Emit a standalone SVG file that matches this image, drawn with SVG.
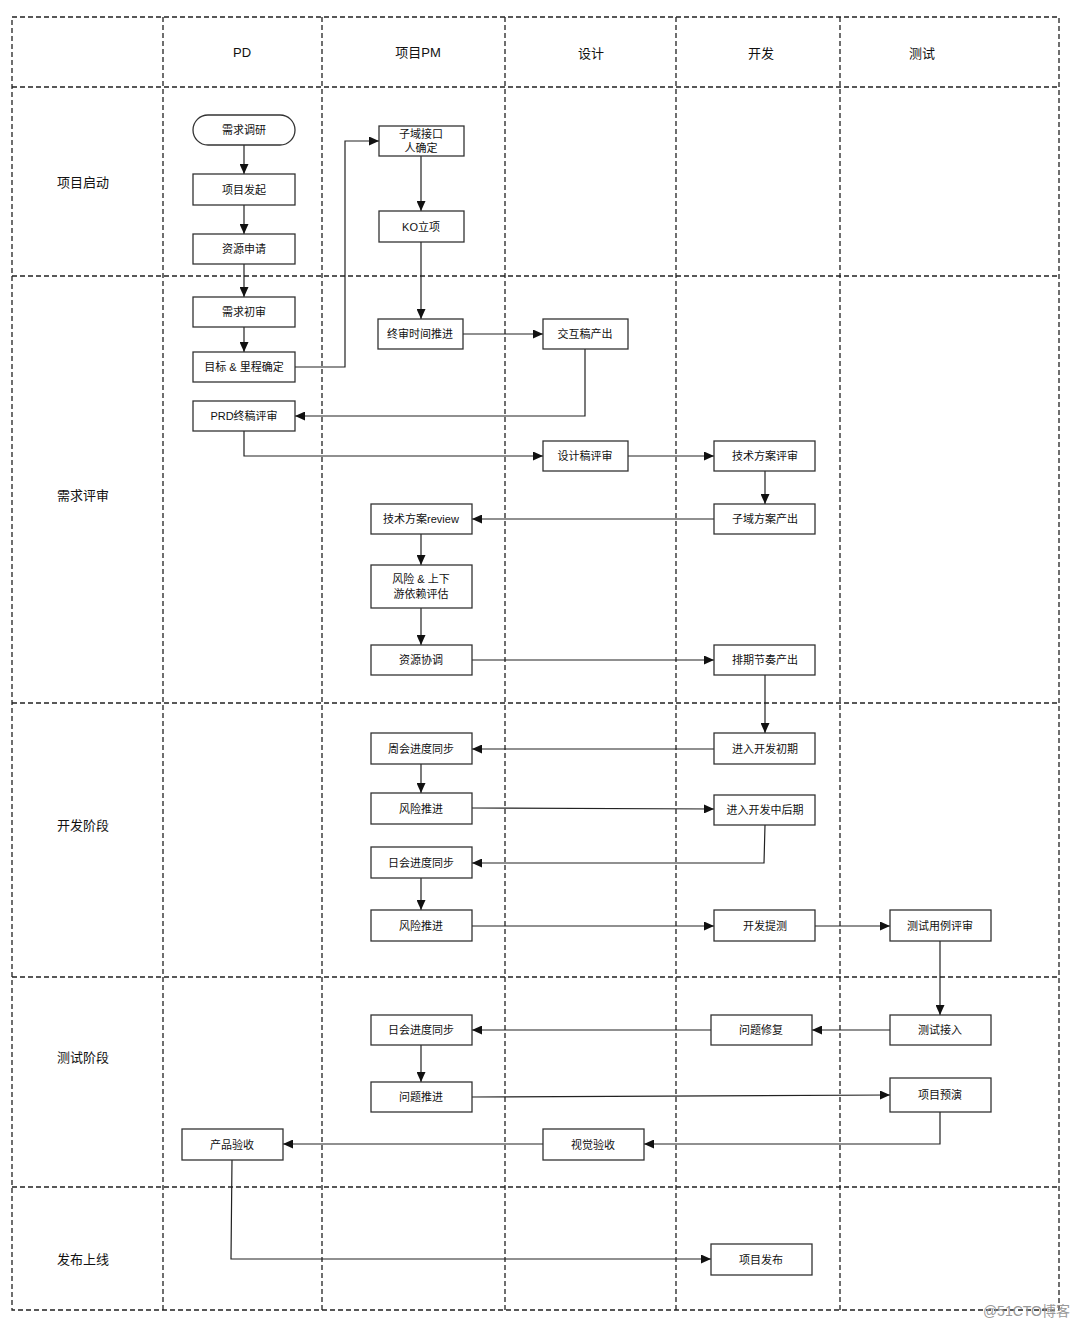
<svg xmlns="http://www.w3.org/2000/svg" width="1080" height="1329" viewBox="0 0 1080 1329">
<style>
.grid{fill:none;stroke:#222;stroke-width:1.3;stroke-dasharray:5 3}
.box{fill:#fff;stroke:#333;stroke-width:1.3}
.t{font-family:"Liberation Sans","Noto Sans CJK SC",sans-serif;font-size:11px;fill:#111;text-anchor:middle;dominant-baseline:central}
.h{font-family:"Liberation Sans","Noto Sans CJK SC",sans-serif;font-size:13px;fill:#111;text-anchor:middle;dominant-baseline:central}
.c{fill:none;stroke:#222;stroke-width:1.2;marker-end:url(#ah)}
</style>
<defs>
<marker id="ah" markerUnits="userSpaceOnUse" markerWidth="11" markerHeight="9" refX="10" refY="4.5" orient="auto">
<path d="M0,0 L10,4.5 L0,9 z" fill="#111"/>
</marker>
</defs>
<rect width="1080" height="1329" fill="#fff"/>
<g id="grid">
<rect class="grid" x="12" y="17" width="1047" height="1293"/>
<line class="grid" x1="163" y1="17" x2="163" y2="1310"/>
<line class="grid" x1="322" y1="17" x2="322" y2="1310"/>
<line class="grid" x1="505" y1="17" x2="505" y2="1310"/>
<line class="grid" x1="676" y1="17" x2="676" y2="1310"/>
<line class="grid" x1="840" y1="17" x2="840" y2="1310"/>
<line class="grid" x1="12" y1="87" x2="1059" y2="87"/>
<line class="grid" x1="12" y1="276" x2="1059" y2="276"/>
<line class="grid" x1="12" y1="703" x2="1059" y2="703"/>
<line class="grid" x1="12" y1="977" x2="1059" y2="977"/>
<line class="grid" x1="12" y1="1187" x2="1059" y2="1187"/>
</g>
<g id="headers">
<text class="h" x="242" y="52">PD</text>
<text class="h" x="418" y="52">项目PM</text>
<text class="h" x="591" y="53">设计</text>
<text class="h" x="761" y="53">开发</text>
<text class="h" x="922" y="53">测试</text>
<text class="h" x="83" y="182">项目启动</text>
<text class="h" x="83" y="495">需求评审</text>
<text class="h" x="83" y="825">开发阶段</text>
<text class="h" x="83" y="1057">测试阶段</text>
<text class="h" x="83" y="1259">发布上线</text>
</g>
<g id="connectors">
<line class="c" x1="244" y1="145" x2="244" y2="174"/>
<line class="c" x1="244" y1="205" x2="244" y2="234"/>
<line class="c" x1="244" y1="264" x2="244" y2="297"/>
<line class="c" x1="244" y1="327" x2="244" y2="352"/>
<polyline class="c" points="295,367 345,367 345,141 379,141"/>
<line class="c" x1="421" y1="156" x2="421" y2="211"/>
<line class="c" x1="421" y1="242" x2="421" y2="319"/>
<line class="c" x1="463" y1="334" x2="543" y2="334"/>
<polyline class="c" points="585,349 585,416 295,416"/>
<polyline class="c" points="244,431 244,456 543,456"/>
<line class="c" x1="628" y1="456" x2="714" y2="456"/>
<line class="c" x1="765" y1="471" x2="765" y2="504"/>
<line class="c" x1="714" y1="519" x2="472" y2="519"/>
<line class="c" x1="421" y1="534" x2="421" y2="565"/>
<line class="c" x1="421" y1="608" x2="421" y2="645"/>
<line class="c" x1="472" y1="660" x2="714" y2="660"/>
<line class="c" x1="765" y1="675" x2="765" y2="733"/>
<line class="c" x1="714" y1="749" x2="472" y2="749"/>
<line class="c" x1="421" y1="764" x2="421" y2="793"/>
<line class="c" x1="472" y1="808" x2="714" y2="809"/>
<polyline class="c" points="765,825 764,863 472,863"/>
<line class="c" x1="421" y1="878" x2="421" y2="910"/>
<line class="c" x1="472" y1="926" x2="714" y2="926"/>
<line class="c" x1="815" y1="926" x2="890" y2="926"/>
<line class="c" x1="940" y1="941" x2="940" y2="1015"/>
<line class="c" x1="890" y1="1030" x2="812" y2="1030"/>
<line class="c" x1="711" y1="1030" x2="472" y2="1030"/>
<line class="c" x1="421" y1="1045" x2="421" y2="1082"/>
<line class="c" x1="472" y1="1097" x2="890" y2="1095"/>
<polyline class="c" points="940,1112 940,1144 644,1144"/>
<line class="c" x1="543" y1="1144" x2="283" y2="1144"/>
<polyline class="c" points="232,1160 231,1259 711,1259"/>
</g>
<g id="n1"><rect class="box" x="193" y="115" width="102" height="30" rx="15"/><text class="t" x="244" y="130">需求调研</text></g>
<g id="n2"><rect class="box" x="193" y="174" width="102" height="31"/><text class="t" x="244" y="190">项目发起</text></g>
<g id="n3"><rect class="box" x="193" y="234" width="102" height="30"/><text class="t" x="244" y="249">资源申请</text></g>
<g id="n4"><rect class="box" x="193" y="297" width="102" height="30"/><text class="t" x="244" y="312">需求初审</text></g>
<g id="n5"><rect class="box" x="193" y="352" width="102" height="30"/><text class="t" x="244" y="367">目标 &amp; 里程确定</text></g>
<g id="n6"><rect class="box" x="193" y="401" width="102" height="30"/><text class="t" x="244" y="416">PRD终稿评审</text></g>
<g id="n7"><rect class="box" x="379" y="126" width="85" height="30"/><text class="t" x="421" y="134">子域接口</text><text class="t" x="421" y="148">人确定</text></g>
<g id="n8"><rect class="box" x="379" y="211" width="85" height="31"/><text class="t" x="421" y="227">KO立项</text></g>
<g id="n9"><rect class="box" x="378" y="319" width="85" height="30"/><text class="t" x="420" y="334">终审时间推进</text></g>
<g id="n10"><rect class="box" x="543" y="319" width="85" height="30"/><text class="t" x="585" y="334">交互稿产出</text></g>
<g id="n11"><rect class="box" x="543" y="441" width="85" height="30"/><text class="t" x="585" y="456">设计稿评审</text></g>
<g id="n12"><rect class="box" x="714" y="441" width="101" height="30"/><text class="t" x="765" y="456">技术方案评审</text></g>
<g id="n13"><rect class="box" x="714" y="504" width="101" height="30"/><text class="t" x="765" y="519">子域方案产出</text></g>
<g id="n14"><rect class="box" x="371" y="504" width="101" height="30"/><text class="t" x="421" y="519">技术方案review</text></g>
<g id="n15"><rect class="box" x="371" y="565" width="101" height="43"/><text class="t" x="421" y="579">风险 &amp; 上下</text><text class="t" x="421" y="594">游依赖评估</text></g>
<g id="n16"><rect class="box" x="371" y="645" width="101" height="30"/><text class="t" x="421" y="660">资源协调</text></g>
<g id="n17"><rect class="box" x="714" y="645" width="101" height="30"/><text class="t" x="765" y="660">排期节奏产出</text></g>
<g id="n18"><rect class="box" x="714" y="733" width="101" height="31"/><text class="t" x="765" y="749">进入开发初期</text></g>
<g id="n19"><rect class="box" x="371" y="733" width="101" height="31"/><text class="t" x="421" y="749">周会进度同步</text></g>
<g id="n20"><rect class="box" x="371" y="793" width="101" height="31"/><text class="t" x="421" y="809">风险推进</text></g>
<g id="n21"><rect class="box" x="714" y="795" width="101" height="30"/><text class="t" x="765" y="810">进入开发中后期</text></g>
<g id="n22"><rect class="box" x="371" y="847" width="101" height="31"/><text class="t" x="421" y="863">日会进度同步</text></g>
<g id="n23"><rect class="box" x="371" y="910" width="101" height="31"/><text class="t" x="421" y="926">风险推进</text></g>
<g id="n24"><rect class="box" x="714" y="910" width="101" height="31"/><text class="t" x="765" y="926">开发提测</text></g>
<g id="n25"><rect class="box" x="890" y="910" width="101" height="31"/><text class="t" x="940" y="926">测试用例评审</text></g>
<g id="n26"><rect class="box" x="890" y="1015" width="101" height="30"/><text class="t" x="940" y="1030">测试接入</text></g>
<g id="n27"><rect class="box" x="711" y="1015" width="101" height="30"/><text class="t" x="761" y="1030">问题修复</text></g>
<g id="n28"><rect class="box" x="371" y="1015" width="101" height="30"/><text class="t" x="421" y="1030">日会进度同步</text></g>
<g id="n29"><rect class="box" x="371" y="1082" width="101" height="30"/><text class="t" x="421" y="1097">问题推进</text></g>
<g id="n30"><rect class="box" x="890" y="1078" width="101" height="34"/><text class="t" x="940" y="1095">项目预演</text></g>
<g id="n31"><rect class="box" x="543" y="1129" width="101" height="31"/><text class="t" x="593" y="1145">视觉验收</text></g>
<g id="n32"><rect class="box" x="182" y="1129" width="101" height="31"/><text class="t" x="232" y="1145">产品验收</text></g>
<g id="n33"><rect class="box" x="711" y="1244" width="101" height="31"/><text class="t" x="761" y="1260">项目发布</text></g>
<text x="1070" y="1316" font-family="Liberation Sans,Noto Sans CJK SC,sans-serif" font-size="14" fill="#999" text-anchor="end">@51CTO博客</text>
</svg>
